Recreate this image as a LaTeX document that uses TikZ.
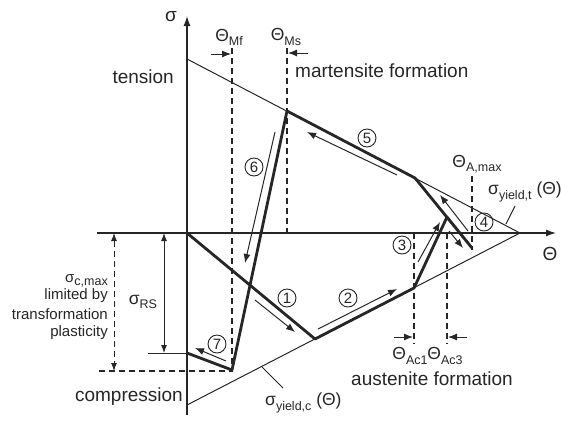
\documentclass[tikz,border=0pt]{standalone}
\usepackage{fontspec}
\setmainfont{Liberation Sans}
\usetikzlibrary{arrows.meta}
\newcommand\sbs[1]{\raisebox{-0.45ex}{\fontsize{12.5}{12.5}\selectfont #1}}
\begin{document}
\begin{tikzpicture}[x=1pt,y=-1pt,
 ink/.style={draw=black!85},
 axisline/.style={ink, line width=1.3pt, -{Latex[length=10pt,width=7pt]}},
 yieldline/.style={ink, line width=1pt},
 pathline/.style={ink, line width=2.8pt, line join=round},
 guide/.style={ink, line width=1.2pt, dash pattern=on 6pt off 4pt},
 thinarrow/.style={ink, line width=1pt, -{Latex[length=9pt,width=7pt]}},
 dimarrow/.style={line width=1pt, {Latex[length=8pt,width=6pt]}-{Latex[length=8pt,width=6pt]}},
 pointer/.style={ink, line width=1pt},
 num/.style={circle, draw=black!85, line width=0.9pt, minimum size=18pt, inner sep=0pt, text=black!85, font=\fontsize{15}{15}\selectfont},
 lbl/.style={inner sep=0pt, text=black!85, font=\fontsize{19}{19}\selectfont},
 sym/.style={inner sep=0pt, text=black!85, font=\fontsize{17.5}{17.5}\selectfont},
 small/.style={inner sep=0pt, text=black!85, font=\fontsize{15}{15}\selectfont},
]
\useasboundingbox (0,0) rectangle (561,426);
% key points
\coordinate (O) at (187,233);
\coordinate (Sbot) at (187,415);
\coordinate (Stop) at (187,16);
\coordinate (Tleft) at (97,233);
\coordinate (Tright) at (556,233);
\coordinate (Y0t) at (187,59);
\coordinate (Y0c) at (187,405);
\coordinate (Apex) at (520,233);
\coordinate (Pms) at (287,111);
\coordinate (Pmf) at (232,370);
\coordinate (P1) at (315,339);
\coordinate (P2) at (414,288);
\coordinate (P3) at (447,217);
\coordinate (P4) at (472,248);
\coordinate (P5) at (415,178);
\coordinate (P7) at (187,353);
\coordinate (RSleft) at (148,353);
% guide line ends
\coordinate (MfTop) at (232,48);
\coordinate (MfBot) at (232,371);
\coordinate (CmaxLeft) at (97,371);
\coordinate (MsTop) at (287,48);
\coordinate (MsBot) at (287,233);
\coordinate (Ac1Top) at (414,233);
\coordinate (Ac1Bot) at (414,344);
\coordinate (Ac3Top) at (447,233);
\coordinate (Ac3Bot) at (447,344);
\coordinate (AmTop) at (472,176);
\coordinate (AmBot) at (472,250);

% axes and yield limits
\draw[axisline] (Sbot) -- (Stop);
\draw[axisline] (Tleft) -- (Tright);
\draw[yieldline] (Y0t) -- (Apex) -- (Y0c);

% guides
\draw[guide] (MfTop) -- (MfBot) -- (CmaxLeft);
\draw[guide] (MsTop) -- (MsBot);
\draw[guide] (Ac1Top) -- (Ac1Bot);
\draw[guide] (Ac3Top) -- (Ac3Bot);
\draw[guide] (AmTop) -- (AmBot);

% stress path
\draw[pathline] (O) -- (P1) -- (P2) -- (P3) -- (P4) -- (P5) -- (Pms) -- (Pmf) -- (P7);
\draw[yieldline] (RSleft) -- (P7);

% dimension arrows
\coordinate (RStop) at (164,233); \coordinate (RSbot) at (164,353);
\draw[ink, dimarrow] (RStop) -- (RSbot);
\coordinate (CMtop) at (114,233); \coordinate (CMbot) at (114,371);
\draw[guide, dimarrow] (CMtop) -- (CMbot);

% theta marker arrows
\coordinate (mfA) at (211,54); \coordinate (mfB) at (231,54);
\draw[thinarrow] (mfA) -- (mfB);
\coordinate (msA) at (308,53); \coordinate (msB) at (288,53);
\draw[thinarrow] (msA) -- (msB);
\coordinate (ac1A) at (394,337); \coordinate (ac1B) at (413,337);
\draw[thinarrow] (ac1A) -- (ac1B);
\coordinate (ac3A) at (467,337); \coordinate (ac3B) at (448,337);
\draw[thinarrow] (ac3A) -- (ac3B);

% process arrows
\coordinate (a1s) at (255,300); \coordinate (a1e) at (295,332);
\coordinate (a2s) at (318,329); \coordinate (a2e) at (397,289);
\coordinate (a3s) at (418,262); \coordinate (a3e) at (440,222);
\coordinate (a4s) at (468,231); \coordinate (a4e) at (440,195);
\coordinate (a4bs) at (449,231); \coordinate (a4be) at (463,248);
\coordinate (a5s) at (397,175); \coordinate (a5e) at (307,132);
\coordinate (a6s) at (275,132); \coordinate (a6e) at (245,263);
\coordinate (a7s) at (226,361); \coordinate (a7e) at (195,348);
\draw[thinarrow] (a1s) -- (a1e);
\draw[thinarrow] (a2s) -- (a2e);
\draw[thinarrow] (a3s) -- (a3e);
\draw[thinarrow] (a4s) -- (a4e);
\draw[thinarrow] (a4bs) -- (a4be);
\draw[thinarrow] (a5s) -- (a5e);
\draw[thinarrow] (a6s) -- (a6e);
\draw[thinarrow] (a7s) -- (a7e);

% numbers
\node[num] (n1) at (287,298) {1};
\node[num] (n2) at (348,298) {2};
\node[num] (n3) at (402,245) {3};
\node[num] (n4) at (484,222) {4};
\node[num] (n5) at (367,138) {5};
\node[num] (n6) at (254,167) {6};
\node[num] (n7) at (217,344) {7};

% labels
\node[lbl] (sig) at (171,17) {σ};
\node[lbl] (the) at (550,254) {Θ};
\node[lbl, anchor=east] (tension) at (174,77) {tension};
\node[lbl, anchor=east] (compr) at (183,397) {compression};
\node[sym] (mf) at (229,37) {Θ\sbs{Mf}};
\node[sym] (ms) at (286,37) {Θ\sbs{Ms}};
\node[lbl, anchor=west] (mform) at (295,71) {martensite formation};
\node[sym] (amax) at (477,164) {Θ\sbs{A,max}};
\node[sym] (ac1) at (410,356) {Θ\sbs{Ac1}};
\node[sym] (ac3) at (445,356) {Θ\sbs{Ac3}};
\node[lbl, anchor=east] (aform) at (513,379) {austenite formation};
\node[sym] (srs) at (143,302) {σ\sbs{RS}};
\node[sym, anchor=west] (syt) at (488,192) {σ\sbs{yield,t} (Θ)};
\node[sym, anchor=west] (syc) at (265,403) {σ\sbs{yield,c} (Θ)};
\coordinate (sytp) at (506,224);
\draw[pointer] (sytp) -- (515,206);
\coordinate (sycp) at (262,367);
\draw[pointer] (sycp) -- (283,388);
\node[small, anchor=east] (cm1) at (108,281) {σ\sbs{c,max}};
\node[small, anchor=east] (cm2) at (108,296) {limited by};
\node[small, anchor=east] (cm3) at (108,314) {transformation};
\node[small, anchor=east] (cm4) at (108,333) {plasticity};
\end{tikzpicture}
\end{document}
